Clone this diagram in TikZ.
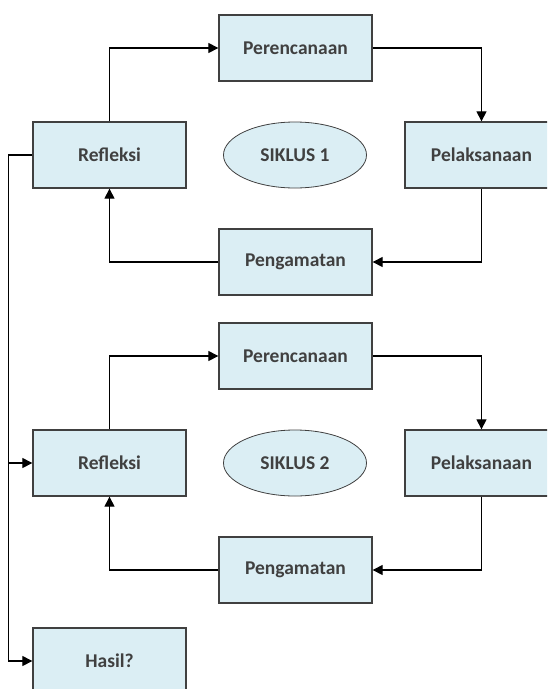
\documentclass[tikz,border=0pt]{standalone}
\usepackage{fontspec}
\setmainfont{Carlito}
\usepackage{tikz}
\usetikzlibrary{shapes.geometric,arrows.meta,positioning}
\definecolor{siklusblue}{RGB}{219,238,244}
\definecolor{siklusgray}{RGB}{64,64,64}

\begin{document}
\begin{tikzpicture}[
  x=1pt,y=1pt,
  font=\fontsize{19.5}{23}\selectfont\bfseries,
  box/.style={rectangle,draw=siklusgray,line width=1.3pt,fill=siklusblue,text=siklusgray,minimum width=153pt,minimum height=66pt,inner sep=0pt},
  oval/.style={ellipse,draw=siklusgray,line width=0.8pt,fill=siklusblue,text=siklusgray,minimum width=143pt,minimum height=66pt,inner sep=0pt},
  arr/.style={-{Triangle[length=10pt,width=10pt]},line width=1.1pt,draw=black}
]
\useasboundingbox (0,0) rectangle (547,-689);
\clip (0,0) rectangle (547,-689);

% siklus 1
\node[box] (per1) at (295.5,-48) {Perencanaan};
\node[box] (ref1) at (109.5,-155) {Refleksi};
\node[box] (pel1) at (481.5,-155) {Pelaksanaan};
\node[box] (pen1) at (295.5,-262) {Pengamatan};
\node[oval] (sik1) at (295,-155) {SIKLUS 1};

\draw[arr] (ref1.north) |- (per1.west);
\draw[arr] (per1.east) -| (pel1.north);
\draw[arr] (pel1.south) |- (pen1.east);
\draw[arr] (pen1.west) -| (ref1.south);

% siklus 2
\node[box] (per2) at (295.5,-356) {Perencanaan};
\node[box] (ref2) at (109.5,-463) {Refleksi};
\node[box] (pel2) at (481.5,-463) {Pelaksanaan};
\node[box] (pen2) at (295.5,-570) {Pengamatan};
\node[oval] (sik2) at (295,-463) {SIKLUS 2};

\draw[arr] (ref2.north) |- (per2.west);
\draw[arr] (per2.east) -| (pel2.north);
\draw[arr] (pel2.south) |- (pen2.east);
\draw[arr] (pen2.west) -| (ref2.south);

% hasil
\node[box] (has) at (109.5,-661) {Hasil?};

\coordinate (kiri) at ([xshift=-24pt]ref1.west);
\draw[line width=1.1pt] (ref1.west) -- (kiri);
\draw[arr] (kiri) |- (ref2.west);
\draw[arr] (kiri) |- (has.west);
\end{tikzpicture}
\end{document}
